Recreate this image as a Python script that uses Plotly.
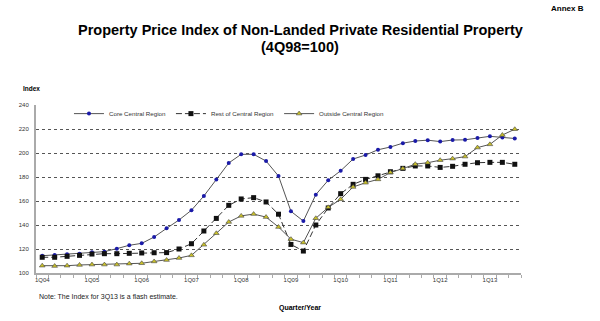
import plotly.graph_objects as go

quarters = [f"{q}Q{y:02d}" for y in range(4, 14) for q in range(1, 5)][:39]
tick_labels = ["1Q04", "1Q05", "1Q06", "1Q07", "1Q08", "1Q09", "1Q10", "1Q11", "1Q12", "1Q13"]

ccr = [114.4, 115.0, 115.6, 116.1, 117.2, 117.8, 120.3, 123.1, 124.7, 130.0, 137.2, 144.2,
       152.3, 164.2, 177.9, 191.7, 198.9, 198.9, 193.3, 180.8, 151.4, 143.3, 165.3, 177.3,
       185.2, 195.0, 198.3, 202.7, 205.0, 208.2, 210.0, 210.7, 209.5, 210.8, 211.0, 212.5,
       213.9, 213.0, 212.1]
rcr = [113.1, 113.1, 113.9, 114.7, 115.8, 116.1, 116.1, 116.4, 116.7, 116.9, 117.0, 120.0,
       124.4, 135.0, 145.5, 156.4, 161.7, 162.8, 159.2, 149.0, 123.8, 118.3, 140.0, 154.2,
       166.1, 173.9, 178.0, 181.0, 184.4, 187.2, 189.2, 189.2, 188.0, 188.9, 190.6, 191.9,
       192.2, 192.2, 190.6]
ocr = [106.1, 105.8, 106.1, 106.7, 107.0, 107.0, 107.0, 107.8, 108.1, 109.6, 110.8, 112.5,
       114.7, 123.5, 133.1, 142.5, 147.6, 149.1, 146.6, 138.3, 128.2, 125.3, 145.6, 154.7,
       161.4, 171.7, 175.2, 178.0, 183.7, 187.0, 190.7, 191.9, 194.0, 195.3, 197.0, 204.5,
       207.2, 215.0, 219.8]

x = list(range(len(quarters)))
FONT = "Liberation Sans, Arial, sans-serif"

fig = go.Figure()
fig.add_trace(go.Scatter(x=x, y=ccr, name="Core Central Region", mode="lines+markers",
                         line=dict(color="#555555", width=1),
                         marker=dict(symbol="circle", size=4, color="#1a1aa8")))
fig.add_trace(go.Scatter(x=x, y=rcr, name="Rest of Central Region", mode="lines+markers",
                         line=dict(color="#333333", width=1, dash="6px,3px"),
                         marker=dict(symbol="square", size=5, color="#111111")))
fig.add_trace(go.Scatter(x=x, y=ocr, name="Outside Central Region", mode="lines+markers",
                         line=dict(color="#555555", width=1),
                         marker=dict(symbol="triangle-up", size=5, color="#c9c02a",
                                     line=dict(color="#444444", width=0.6))))

fig.update_layout(
    width=600, height=321,
    margin=dict(l=36, r=79, t=105, b=48),
    paper_bgcolor="white", plot_bgcolor="white",
    font=dict(family=FONT, color="black", size=7),
    showlegend=True,
    legend=dict(orientation="h", x=0.068, y=1.035, xanchor="left", yanchor="top",
                bgcolor="rgba(0,0,0,0)", font=dict(size=6.2, color="#333333"),
                itemwidth=30, tracegroupgap=0),
    xaxis=dict(range=[-0.5, 38.5], tickmode="array", tickvals=list(range(0, 39, 4)),
               ticktext=tick_labels, tickfont=dict(size=6, color="#333333"),
               showgrid=False, zeroline=False, showline=True, linecolor="#aaaaaa", linewidth=2,
               ticks="", ticklen=0,
               minor=dict(ticks="outside", ticklen=3, tickcolor="#aaaaaa", tick0=-0.5, dtick=1,
                          showgrid=False)),
    yaxis=dict(range=[100, 240], dtick=20, tickfont=dict(size=6, color="#333333"),
               showgrid=True, gridcolor="#555555", griddash="dot", gridwidth=1,
               zeroline=False, showline=True, linecolor="#aaaaaa", linewidth=2,
               ticks="", ticklabelstandoff=4),
)

fig.add_annotation(text="<b>Annex B</b>", xref="paper", yref="paper", x=1.135, y=1.575,
                   showarrow=False, xanchor="right", yanchor="middle", font=dict(size=8))
fig.add_annotation(text="<b>Property Price Index of Non-Landed Private Residential Property</b>",
                   xref="paper", yref="paper", x=0.545, y=1.446, showarrow=False,
                   xanchor="center", yanchor="middle", font=dict(size=14.5))
fig.add_annotation(text="<b>(4Q98=100)</b>", xref="paper", yref="paper", x=0.545, y=1.345,
                   showarrow=False, xanchor="center", yanchor="middle", font=dict(size=14.5))
fig.add_annotation(text="<b>Index</b>", xref="paper", yref="paper", x=-0.01, y=1.1,
                   showarrow=False, xanchor="center", yanchor="middle", font=dict(size=6.5))
fig.add_annotation(text="Note: The Index for 3Q13 is a flash estimate.", xref="paper", yref="paper",
                   x=0.003, y=-0.143, showarrow=False, xanchor="left", yanchor="middle",
                   font=dict(size=7, color="#222222"))
fig.add_annotation(text="<b>Quarter/Year</b>", xref="paper", yref="paper", x=0.545, y=-0.21,
                   showarrow=False, xanchor="center", yanchor="middle", font=dict(size=7))

fig.write_html("out.html")
